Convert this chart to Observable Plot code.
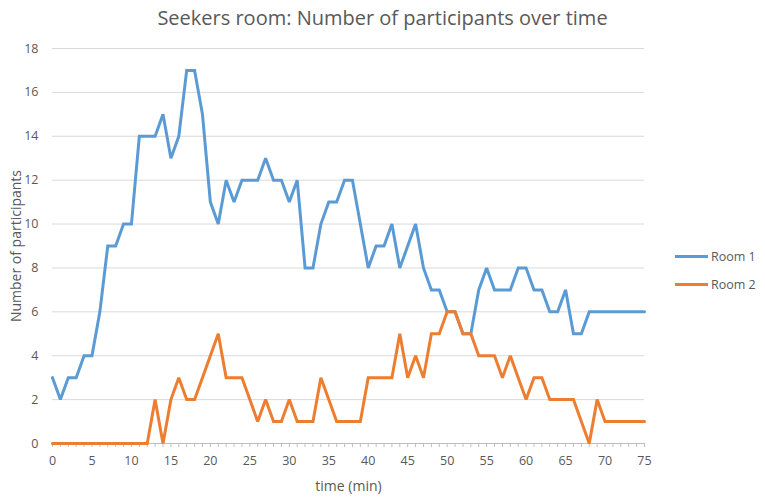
<!DOCTYPE html>
<html>
<head>
<meta charset="utf-8">
<script src="https://cdn.jsdelivr.net/npm/d3@7"></script>
<script src="https://cdn.jsdelivr.net/npm/@observablehq/plot@0.6"></script>
<style>
  body { margin: 0; background: #fff; }
  #wrap { position: relative; width: 765px; height: 501px; font-family: "Open Sans", sans-serif; }
  #title { height: 35px; line-height: 35px; text-align: center; font-size: 20px; color: #595959; }
  .leg { position: absolute; left: 675px; font-size: 12.5px; color: #595959; display: flex; align-items: center; }
  .leg span.sw { display: inline-block; width: 33px; height: 3px; margin-right: 3px; }
</style>
</head>
<body>
<div id="wrap">
  <div id="title">Seekers room: Number of participants over time</div>
  <div id="chart"></div>
  <div class="leg" style="top:248px"><span class="sw" style="background:#5B9BD5"></span>Room 1</div>
  <div class="leg" style="top:276px"><span class="sw" style="background:#ED7D31"></span>Room 2</div>
</div>
<script>
const times = d3.range(0, 76);
const room1 = [3,2,3,3,4,4,6,9,9,10,10,14,14,14,15,13,14,17,17,15,11,10,12,11,12,12,12,13,12,12,11,12,8,8,10,11,11,12,12,10,8,9,9,10,8,9,10,8,7,7,6,6,5,5,7,8,7,7,7,8,8,7,7,6,6,7,5,5,6,6,6,6,6,6,6,6];
const room2 = [0,0,0,0,0,0,0,0,0,0,0,0,0,2,0,2,3,2,2,3,4,5,3,3,3,2,1,2,1,1,2,1,1,1,3,2,1,1,1,1,3,3,3,3,5,3,4,3,5,5,6,6,5,5,4,4,4,3,4,3,2,3,3,2,2,2,2,1,0,2,1,1,1,1,1,1];
const seriesNames = ["Room 1", "Room 2"];
const colors = ["#5B9BD5", "#ED7D31"];
const yTicks = d3.range(0, 19, 2);
const xTicks = d3.range(0, 76, 5);

const data = [];
times.forEach((t, i) => {
  data.push({t, v: room1[i], s: seriesNames[0]});
  data.push({t, v: room2[i], s: seriesNames[1]});
});

const chart = Plot.plot({
  width: 765,
  height: 466,
  marginLeft: 52,
  marginRight: 121,
  marginTop: 13,
  marginBottom: 58,
  style: { fontFamily: "Open Sans, sans-serif", color: "#595959", fontSize: "12.5px" },
  x: { domain: [0, 75] },
  y: { domain: [0, 18] },
  color: { domain: seriesNames, range: colors },
  marks: [
    Plot.gridY(yTicks.filter(d => d > 0), { stroke: "#d9d9d9", strokeOpacity: 1 }),
    Plot.ruleY([0], { stroke: "#bfbfbf" }),
    Plot.axisY(yTicks, { tickSize: 0, tickPadding: 14, label: null, fontSize: 12.5, fill: "#595959" }),
    Plot.axisY({ ticks: [], tickSize: 0, label: "Number of participants", labelAnchor: "center", labelArrow: "none", labelOffset: 41, fontSize: 14, fill: "#595959" }),
    Plot.axisX(times, { tickSize: 4, text: null, stroke: "#bfbfbf", label: null }),
    Plot.axisX(xTicks, { tickSize: 0, tickPadding: 13, label: null, fontSize: 12.5, fill: "#595959" }),
    Plot.axisX({ ticks: [], tickSize: 0, label: "time (min)", labelAnchor: "center", labelArrow: "none", labelOffset: 47, fontSize: 14, fill: "#595959" }),
    Plot.lineY(data, { x: "t", y: "v", z: "s", stroke: "s", strokeWidth: 3, strokeLinejoin: "miter", strokeMiterlimit: 2 })
  ]
});
document.getElementById("chart").appendChild(chart);
</script>
</body>
</html>
